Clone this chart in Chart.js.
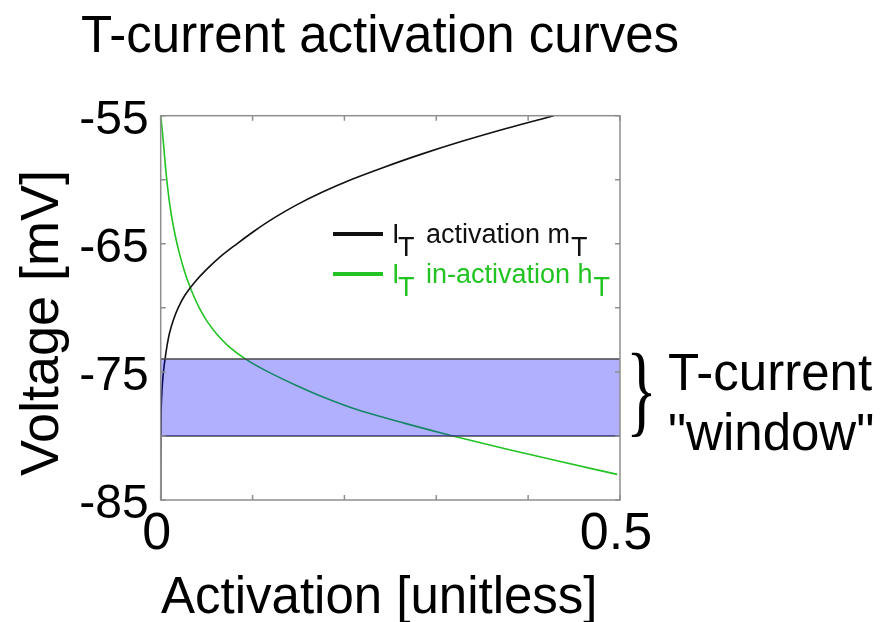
<!DOCTYPE html>
<html>
<head>
<meta charset="utf-8">
<script src="https://cdn.jsdelivr.net/npm/chart.js@4.4.1/dist/chart.umd.min.js"></script>
<style>
  body { margin: 0; background: #fff; }
  #wrap { width: 881px; height: 622px; }
</style>
</head>
<body>
<div id="wrap"><canvas id="myChart" width="881" height="622"></canvas></div>
<script>
// values (voltage in mV, activation unitless)
const voltsM = [-85, -82, -80, -78, -77, -76, -75, -74, -73, -72, -71, -70, -69, -68, -67, -66, -65, -64, -63, -62, -61, -60, -59, -58, -57, -56, -55];
const actM = [0, 0, 0.0002, 0.0005, 0.001, 0.0018, 0.003, 0.0047, 0.0068, 0.0095, 0.0135, 0.019, 0.0265, 0.037, 0.050, 0.065, 0.083, 0.102, 0.123, 0.147, 0.175, 0.207, 0.244, 0.284, 0.328, 0.376, 0.428];

const voltsH = [-55, -56, -57, -58, -59, -60, -61, -62, -63, -64, -65, -66, -67, -68, -69, -70, -71, -72, -73, -74, -75, -76, -77, -78, -79, -80, -81, -82, -83];
const actH = [0, 0.0015, 0.0028, 0.0040, 0.0052, 0.0066, 0.0082, 0.0100, 0.0122, 0.0148, 0.0178, 0.0213, 0.0253, 0.0300, 0.0355, 0.0420, 0.0500, 0.0605, 0.0740, 0.0925, 0.117, 0.146, 0.178, 0.216, 0.265, 0.318, 0.375, 0.435, 0.497];

// the "window" band
const windowX = [0, 0.5];
const windowTop = -74;
const windowBottom = -80;

const yLabelTicks = [-55, -65, -75, -85];
const xLabelTicks = ['0', '0.5'];

const FONT = '"Liberation Sans", Arial, sans-serif';
const GREEN = '#22c322';

const extras = {
  id: 'extras',
  afterDraw(chart) {
    const { ctx, chartArea: a, scales: { x, y } } = chart;
    ctx.save();

    // box with inward ticks (matlab style)
    ctx.strokeStyle = '#8f8f8f';
    ctx.lineWidth = 1.5;
    ctx.strokeRect(a.left, a.top, a.right - a.left, a.bottom - a.top);
    ctx.beginPath();
    x.ticks.forEach(t => {
      const px = x.getPixelForValue(t.value);
      ctx.moveTo(px, a.bottom); ctx.lineTo(px, a.bottom - 5);
      ctx.moveTo(px, a.top); ctx.lineTo(px, a.top + 5);
    });
    y.ticks.forEach(t => {
      const py = y.getPixelForValue(t.value);
      ctx.moveTo(a.left, py); ctx.lineTo(a.left + 5, py);
      ctx.moveTo(a.right, py); ctx.lineTo(a.right - 5, py);
    });
    ctx.stroke();

    // titles
    ctx.fillStyle = '#000';
    ctx.textBaseline = 'alphabetic';
    ctx.textAlign = 'left';
    ctx.font = '51px ' + FONT;
    ctx.fillText('T-current activation curves', 81, 52);
    ctx.fillText('Activation [unitless]', 161, 613);
    ctx.save();
    ctx.translate(58, 323);
    ctx.rotate(-Math.PI / 2);
    ctx.textAlign = 'center';
    ctx.font = '54px ' + FONT;
    ctx.fillText('Voltage [mV]', 0, 0);
    ctx.restore();

    // legend with subscripts
    const rows = [
      { color: '#111', text: 'activation m', y: 243 },
      { color: GREEN, text: 'in-activation h', y: 283 }
    ];
    rows.forEach(r => {
      ctx.strokeStyle = r.color;
      ctx.lineWidth = 4;
      ctx.beginPath();
      ctx.moveTo(333, r.y - 9);
      ctx.lineTo(383, r.y - 9);
      ctx.stroke();
      ctx.fillStyle = r.color;
      ctx.font = '27px ' + FONT;
      ctx.fillText('I', 392, r.y);
      ctx.fillText('T', 398, r.y + 13);
      ctx.fillText(r.text, 426, r.y);
      const w = ctx.measureText(r.text).width;
      ctx.fillText('T', 426 + w + 1, r.y + 13);
    });

    // brace + window note
    const bBot = y.getPixelForValue(windowBottom);
    ctx.fillStyle = '#000';
    ctx.save();
    ctx.translate(626, bBot - 13);
    ctx.scale(0.7, 1.1);
    ctx.font = '92px "Liberation Serif", serif';
    ctx.fillText('}', 0, 0);
    ctx.restore();
    ctx.font = '51px ' + FONT;
    ctx.fillText('T-current', 668, 390);
    ctx.fillText('"window"', 668, 450);

    ctx.restore();
  }
};

const ctx = document.getElementById('myChart');

new Chart(ctx, {
  type: 'line',
  data: {
    datasets: [
      {
        label: 'window top',
        data: windowX.map(v => ({ x: v, y: windowTop })),
        borderColor: '#4a4a4a',
        borderWidth: 1.5,
        backgroundColor: 'rgba(0, 0, 255, 0.31)',
        fill: '+1',
        pointRadius: 0,
        order: 0
      },
      {
        label: 'window bottom',
        data: windowX.map(v => ({ x: v, y: windowBottom })),
        borderColor: '#4a4a4a',
        borderWidth: 1.5,
        fill: false,
        pointRadius: 0,
        order: 0
      },
      {
        label: 'I_T activation m_T',
        data: voltsM.map((v, i) => ({ x: actM[i], y: v })),
        indexAxis: 'y',
        borderColor: '#111',
        borderWidth: 1.6,
        pointRadius: 0,
        cubicInterpolationMode: 'monotone',
        fill: false,
        order: 1
      },
      {
        label: 'I_T in-activation h_T',
        data: voltsH.map((v, i) => ({ x: actH[i], y: v })),
        indexAxis: 'y',
        borderColor: GREEN,
        borderWidth: 1.6,
        pointRadius: 0,
        cubicInterpolationMode: 'monotone',
        fill: false,
        order: 1
      }
    ]
  },
  options: {
    responsive: false,
    animation: false,
    devicePixelRatio: 1,
    layout: { padding: { top: 115.7, right: 261, bottom: 0, left: 0 } },
    plugins: {
      legend: { display: false },
      tooltip: { enabled: false }
    },
    scales: {
      x: {
        type: 'linear',
        position: 'bottom',
        min: 0,
        max: 0.5,
        afterFit(s) { s.height = 122; },
        grid: { drawOnChartArea: false, drawTicks: false },
        border: { display: false },
        ticks: {
          stepSize: 0.1,
          autoSkip: false,
          maxRotation: 0,
          padding: 3,
          labelOffset: -4,
          color: '#000',
          font: { family: FONT, size: 52 },
          callback: v => {
            const hit = xLabelTicks.find(t => Math.abs(parseFloat(t) - v) < 1e-9);
            return hit || '';
          }
        }
      },
      y: {
        type: 'linear',
        position: 'left',
        min: -85,
        max: -55,
        afterFit(s) { s.width = 160.7; },
        grid: { drawOnChartArea: false, drawTicks: false },
        border: { display: false },
        ticks: {
          stepSize: 5,
          autoSkip: false,
          padding: 12,
          labelOffset: 5,
          color: '#000',
          font: { family: FONT, size: 48 },
          callback: v => yLabelTicks.includes(v) ? String(v) : ''
        }
      }
    }
  },
  plugins: [extras]
});
</script>
</body>
</html>
